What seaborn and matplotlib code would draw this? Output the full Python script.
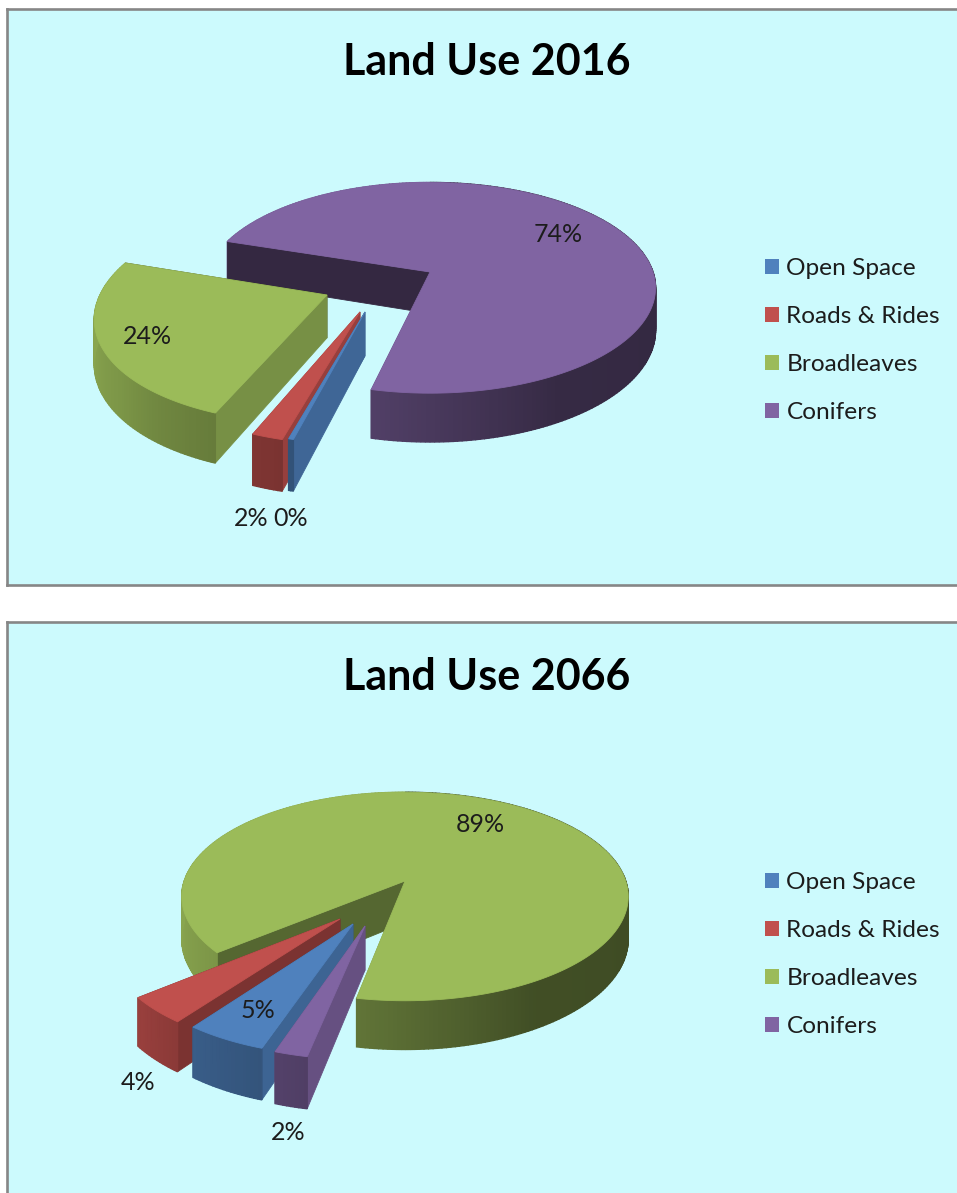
import matplotlib
matplotlib.use("Agg")
import matplotlib.patches as patches
import matplotlib.pyplot as plt
import seaborn as sns
import numpy as np

# data
categories = ["Open Space", "Roads & Rides", "Broadleaves", "Conifers"]
values_2016 = [0.3, 1.9, 24.2, 73.6]
values_2066 = [5, 4, 89, 2]
titles = ["Land Use 2016", "Land Use 2066"]

# look
slice_colors = ["#4F81BD", "#C0504D", "#9BBB59", "#8064A2"]
panel_color = "#CCFAFD"
border_color = "#868686"
text_color = "#1C1C1C"
W, H = 957, 1193

# fake 3d: unit disc tilted towards the viewer, everything below in image pixels
K = 0.15
RY = 103
DEPTH = 41.5

layout_2016 = dict(
    box=(7, 9, 957, 585), center=(430, 272), rx=223, start=193,
    apex=[(365, 312), (360, 312), (327, 295), (430, 272)],
    radius=[0.965, 0.97, 0.985, 1.0],
    order=[3, 2, 1, 0],
    labels=[(291, 519), (251, 519), (147, 336), (558, 234)],
    title_y=62, legend_y=253,
)
layout_2066 = dict(
    box=(7, 622, 957, 1193), center=(405, 881), rx=223, start=198,
    apex=[(353, 924), (340, 919), (405, 881), (365, 926)],
    radius=[0.96, 0.97, 0.99, 0.965],
    order=[2, 1, 0, 3],
    labels=[(258, 1011), (138, 1083), (480, 824), (288, 1133)],
    title_y=677, legend_y=867,
)


def to_screen(u, v, center, rx):
    s = 1 / (1 - K * v)
    return center[0] + rx * u * s, center[1] + RY * v * s, s


def from_screen(px, py, center, rx):
    t = (py - center[1]) / RY
    v = t / (1 + K * t)
    s = 1 / (1 - K * v)
    return (px - center[0]) / (rx * s), v


def wall_shade(angle):
    return np.interp(angle % 360, [90, 150, 190, 216, 231, 260, 290], [0.40, 0.42, 0.62, 0.72, 0.80, 0.88, 0.90])


def face_shade(angle):
    return np.interp(angle % 360, [190, 201, 216, 230, 289], [0.80, 0.77, 0.64, 0.55, 0.40])


def draw_slice(ax, a0, a1, color, apex, radius, center, rx):
    base = np.array(matplotlib.colors.to_rgb(color))
    u0, v0 = from_screen(apex[0], apex[1], center, rx)
    angles = np.linspace(a0, a1, max(int(a1 - a0) + 2, 3))
    u = u0 + radius * np.sin(np.radians(angles))
    v = v0 - radius * np.cos(np.radians(angles))
    x, y, s = to_screen(u, v, center, rx)
    yb = y + DEPTH * s
    ax_, ay_, as_ = to_screen(u0, v0, center, rx)

    def strip(i):
        c = base * wall_shade((angles[i] + angles[i + 1]) / 2)
        ax.fill([x[i], x[i + 1], x[i + 1], x[i]], [y[i], y[i + 1], yb[i + 1], yb[i]],
                color=c, lw=1.0)

    back = [i for i in range(len(angles) - 1) if np.cos(np.radians(angles[i])) > 0]
    front = [i for i in range(len(angles) - 1) if i not in back]
    for i in back:
        strip(i)
    for k, ang in ((-1, a1), (0, a0)):
        ax.fill([ax_, x[k], x[k], ax_], [ay_, y[k], yb[k], ay_ + DEPTH * as_],
                color=base * face_shade(ang), lw=0.6)
    for i in front:
        strip(i)
    ax.fill(np.r_[ax_, x], np.r_[ay_, y], color=base, lw=0.6)


def draw_panel(ax, values, title, lay):
    x0, y0, x1, y1 = lay["box"]
    ax.set_xlim(x0, x1)
    ax.set_ylim(y1, y0)
    ax.set_facecolor(panel_color)
    ax.set_xticks([])
    ax.set_yticks([])
    for name, spine in ax.spines.items():
        spine.set_color(border_color)
        spine.set_linewidth(1.9)
    ax.spines["right"].set_visible(False)

    # slice angles come from the values, clockwise from the first slice angle
    edges = lay["start"] + np.r_[0, np.cumsum(values)] / np.sum(values) * 360
    for i in lay["order"]:
        draw_slice(ax, edges[i], edges[i + 1], palette[i], lay["apex"][i], lay["radius"][i],
                   lay["center"], lay["rx"])

    for val, pos in zip(values, lay["labels"]):
        ax.text(pos[0], pos[1], f"{round(val)}%", ha="center", va="center", fontsize=18, color=text_color)
    ax.text(487, lay["title_y"], title, ha="center", va="center", fontsize=31, fontweight="bold", color="black")

    handles = [patches.Patch(facecolor=c, edgecolor="none", label=n) for c, n in zip(palette, categories)]
    ax.legend(handles=handles, loc="upper left", bbox_to_anchor=(760, lay["legend_y"]),
              bbox_transform=ax.transData, frameon=False, fontsize=17.6, labelcolor=text_color,
              handlelength=0.58, handleheight=0.58, handletextpad=0.3, labelspacing=1.105,
              borderpad=0.2, borderaxespad=0)


sns.set_theme(style="white")
plt.rcParams["font.family"] = ["Lato", "DejaVu Sans"]
palette = sns.color_palette(slice_colors)

fig = plt.figure(figsize=(W / 100, H / 100), dpi=100)
fig.patch.set_facecolor("white")
for values, title, lay in zip([values_2016, values_2066], titles, [layout_2016, layout_2066]):
    x0, y0, x1, y1 = lay["box"]
    ax = fig.add_axes([x0 / W, 1 - y1 / H, (x1 - x0) / W, (y1 - y0) / H])
    draw_panel(ax, values, title, lay)
    if y1 >= H:
        ax.spines["bottom"].set_visible(False)

plt.savefig("out.png", dpi=100)
